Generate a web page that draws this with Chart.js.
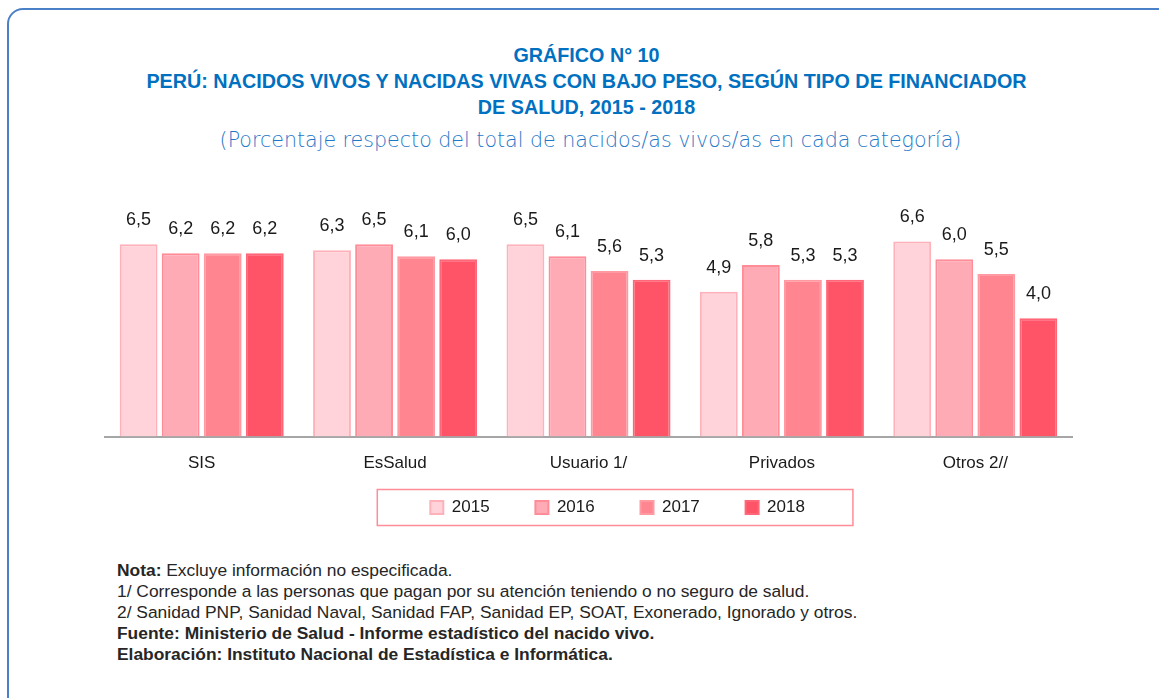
<!DOCTYPE html>
<html>
<head>
<meta charset="utf-8">
<script src="https://cdn.jsdelivr.net/npm/chart.js"></script>
<style>
  body { margin: 0; background: #fff; width: 1159px; height: 698px; overflow: hidden; position: relative; font-family: "Liberation Sans", Arial, sans-serif; }
  .frame { position: absolute; left: 7px; top: 8px; width: 1200px; height: 750px; border: 2px solid #4a80c8; border-radius: 16px; }
  .title { position: absolute; left: 7px; width: 1159px; text-align: center; color: #0070c0; font-weight: bold; font-size: 19.75px; line-height: 26px; top: 42px; }
  .sub { position: absolute; left: 11px; width: 1159px; text-align: center; color: #1f77c8; font-family: "DejaVu Sans", sans-serif; font-weight: 200; font-size: 20.6px; top: 128px; }
  .chartbox { position: absolute; left: 95px; top: 170px; width: 1000px; height: 363px; }
  .notes { position: absolute; left: 117px; top: 560px; font-size: 17.4px; line-height: 21px; color: #262626; }
</style>
</head>
<body>
<div class="frame"></div>
<div class="title">GRÁFICO N° 10<br>PERÚ: NACIDOS VIVOS Y NACIDAS VIVAS CON BAJO PESO, SEGÚN TIPO DE FINANCIADOR<br>DE SALUD, 2015 - 2018</div>
<div class="sub">(Porcentaje respecto del total de nacidos/as vivos/as en cada categoría)</div>
<div class="chartbox"><canvas id="chart"></canvas></div>
<div class="notes">
  <b>Nota:</b> Excluye información no especificada.<br>
  1/ Corresponde a las personas que pagan por su atención teniendo o no seguro de salud.<br>
  2/ Sanidad PNP, Sanidad Naval, Sanidad FAP, Sanidad EP, SOAT, Exonerado, Ignorado y otros.<br>
  <b>Fuente: Ministerio de Salud - Informe estadístico del nacido vivo.</b><br>
  <b>Elaboración: Instituto Nacional de Estadística e Informática.</b>
</div>
<script>
  const categories = ['SIS', 'EsSalud', 'Usuario 1/', 'Privados', 'Otros 2//'];
  const years = ['2015', '2016', '2017', '2018'];
  const values2015 = [6.5, 6.3, 6.5, 4.9, 6.6];
  const values2016 = [6.2, 6.5, 6.1, 5.8, 6.0];
  const values2017 = [6.2, 6.1, 5.6, 5.3, 5.5];
  const values2018 = [6.2, 6.0, 5.3, 5.3, 4.0];

  const fills = ['#ffd3d9', '#ffabb5', '#ff8690', '#ff5468'];
  const borders = ['#ffb1ba', '#ff8c97', '#ff9aa3', '#ff6677'];
  const series = [values2015, values2016, values2017, values2018];
  const fontFam = '"Liberation Sans", Arial, sans-serif';

  // etiquetas de valor sobre cada barra
  const valueLabels = {
    id: 'valueLabels',
    afterDatasetsDraw(chart) {
      const ctx = chart.ctx;
      ctx.save();
      ctx.font = '18px ' + fontFam;
      ctx.fillStyle = '#1a1a1a';
      ctx.textAlign = 'center';
      ctx.textBaseline = 'middle';
      chart.data.datasets.forEach((ds, i) => {
        chart.getDatasetMeta(i).data.forEach((bar, j) => {
          ctx.fillText(ds.data[j].toFixed(1).replace('.', ','), bar.x, bar.y - 24);
        });
      });
      ctx.restore();
    }
  };

  // leyenda un poco a la derecha y con recuadro
  const legendBox = {
    id: 'legendBox',
    afterLayout(chart) {
      chart.legend.left += 48;
      chart.legend.right += 48;
    },
    afterDraw(chart) {
      const boxes = chart.legend.legendHitBoxes;
      if (!boxes || !boxes.length) return;
      const ctx = chart.ctx;
      ctx.save();
      ctx.font = '17px ' + fontFam;
      const first = boxes[0], last = boxes[boxes.length - 1];
      const left = first.left - 53;
      const right = last.left + 13 + 8.5 + ctx.measureText(years[years.length - 1]).width + 48;
      const mid = first.top + first.height / 2;
      ctx.strokeStyle = '#ff8c97';
      ctx.lineWidth = 1.5;
      ctx.strokeRect(left, mid - 18, right - left, 36);
      ctx.restore();
    }
  };

  new Chart(document.getElementById('chart'), {
    type: 'bar',
    data: {
      labels: categories,
      datasets: years.map((y, i) => ({
        label: y,
        data: series[i],
        backgroundColor: fills[i],
        borderColor: borders[i],
        borderWidth: 2,
        categoryPercentage: 0.87,
        barPercentage: 0.9
      }))
    },
    options: {
      responsive: true,
      maintainAspectRatio: false,
      animation: false,
      layout: { padding: { left: 10, right: 23, top: 30, bottom: 7 } },
      scales: {
        x: {
          grid: { display: false, drawTicks: false },
          border: { color: '#a6a6a6', width: 2 },
          ticks: { color: '#1a1a1a', font: { family: fontFam, size: 17 }, padding: 17 }
        },
        y: { display: false, min: 0, max: 8 }
      },
      plugins: {
        legend: {
          position: 'bottom',
          labels: {
            color: '#1a1a1a',
            font: { family: fontFam, size: 17 },
            boxWidth: 13,
            boxHeight: 13,
            padding: 8,
            generateLabels(chart) {
              const items = Chart.defaults.plugins.legend.labels.generateLabels(chart);
              items.forEach(it => { it.text = it.text + '        '; });
              return items;
            }
          }
        },
        tooltip: { enabled: false }
      }
    },
    plugins: [valueLabels, legendBox]
  });
</script>
</body>
</html>
